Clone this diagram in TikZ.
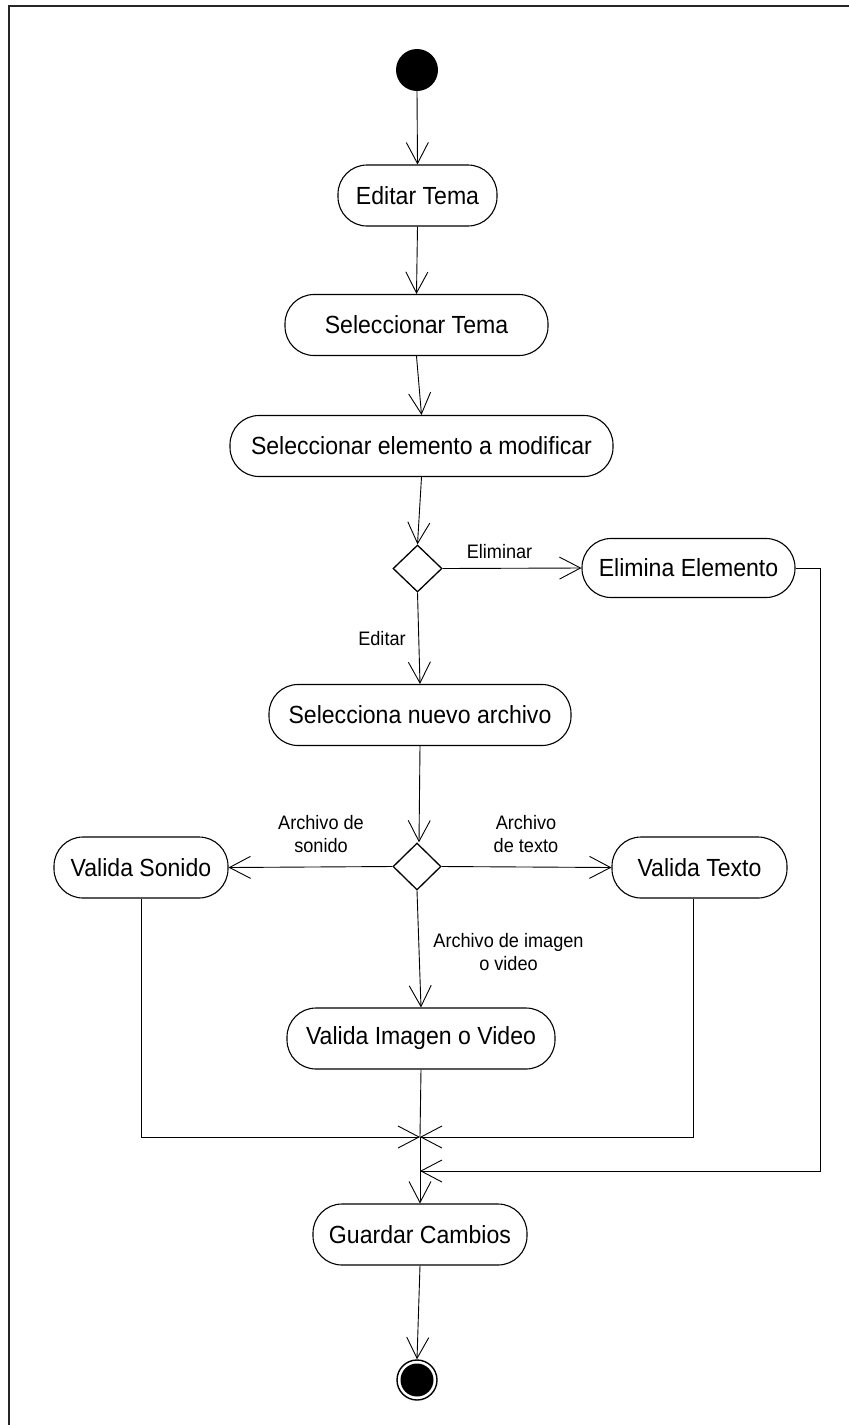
\documentclass[tikz,border=0pt]{standalone}
\usepackage{fontspec}
\setmainfont{Liberation Sans}[FakeStretch=0.93]
\usetikzlibrary{arrows.meta,shapes.geometric}
\tikzset{
  activity/.style={draw=black, line width=1.1pt, rounded corners=29pt,
    minimum height=61pt, inner sep=0pt, align=center,
    font=\fontsize{24.8}{29}\selectfont},
  decision/.style={draw=black, line width=1.3pt, diamond, inner sep=0pt,
    minimum width=49pt, minimum height=47pt},
  guard/.style={inner sep=0pt, align=center,
    font=\fontsize{19.5}{22.5}\selectfont},
  flow/.style={draw=black, line width=0.9pt,
    -{Straight Barb[length=21pt, width=22pt, line width=0.9pt]}},
  plain/.style={draw=black, line width=0.9pt},
  frame/.style={draw=black!85, line width=2pt}
}
\begin{document}
\begin{tikzpicture}[x=1pt, y=-1pt]
  \useasboundingbox (0,0) rectangle (849,1425);
  % outer frame (top and left edges)
  \draw[frame] (849,6) -- (8.5,6) -- (8.5,1425);

  % initial and final states
  \node[circle, fill=black, minimum size=42pt, inner sep=0pt] (start) at (417,70) {};
  \node[circle, draw=black, line width=1.4pt, minimum size=40pt, inner sep=0pt] (finish) at (417,1380) {};
  \node[circle, fill=black, minimum size=33pt, inner sep=0pt] (finishdot) at (417,1380) {};

  % activities
  \node[activity, minimum width=159pt] (editar)  at (417.5,195.5) {Editar Tema};
  \node[activity, minimum width=263pt] (seltema) at (416.5,325)   {Seleccionar Tema};
  \node[activity, minimum width=383pt] (selelem) at (421.5,446)   {Seleccionar elemento a modificar};
  \node[decision] (d1) at (417.5,568.5) {};
  \node[activity, minimum width=213pt, minimum height=59pt] (elimina) at (688.5,568) {Elimina Elemento};
  \node[activity, minimum width=302pt] (selnuevo) at (420,715) {Selecciona nuevo archivo};
  \node[decision, minimum width=48pt] (d2) at (417,866.5) {};
  \node[activity, minimum width=174pt] (sonido) at (141,867.5) {Valida Sonido};
  \node[activity, minimum width=175pt] (texto)  at (699.5,867.5) {Valida Texto};
  \node[activity, minimum width=268pt] (imagen) at (421,1038.5) {Valida Imagen o Video};
  \node[activity, minimum width=214pt] (guardar) at (420,1234.5) {Guardar Cambios};

  % guard labels
  \node[guard] (leliminar) at (499.5,552) {Eliminar};
  \node[guard] (leditar)   at (382,639)   {Editar};
  \node[guard] (lsonido)   at (321,834)   {Archivo de\\sonido};
  \node[guard] (ltexto)    at (526,834)   {Archivo\\de texto};
  \node[guard] (limagen)   at (508.5,952) {Archivo de imagen\\o video};

  % junction points
  \coordinate (merge) at (420,1137);
  \coordinate (join)  at (420,1171);
  \coordinate (rc)    at (820,568);

  % main flow
  \draw[flow] (start.south) -- (editar.north);
  \draw[flow] (editar.south) -- (seltema.north);
  \draw[flow] (seltema.south) -- (selelem.north);
  \draw[flow] (selelem.south) -- (d1.north);
  \draw[flow] (d1.east) -- (elimina.west);
  \draw[flow] (d1.south) -- (selnuevo.north);
  \draw[flow] (selnuevo.south) -- ([xshift=2pt]d2.north);
  \draw[flow] (d2.west) -- (sonido.east);
  \draw[flow] (d2.east) -- (texto.west);
  \draw[flow] (d2.south) -- (imagen.north);

  % branches merging before saving
  \draw[plain] (imagen.south) -- (merge);
  \draw[flow] (sonido.south) |- (merge);
  \draw[flow] ([xshift=-6.5pt]texto.south) |- (merge);
  \draw[flow] (elimina.east) -- (rc) |- (join);
  \draw[flow] (merge) -- (guardar.north);
  \draw[flow] (guardar.south) -- (finish.north);
\end{tikzpicture}
\end{document}
